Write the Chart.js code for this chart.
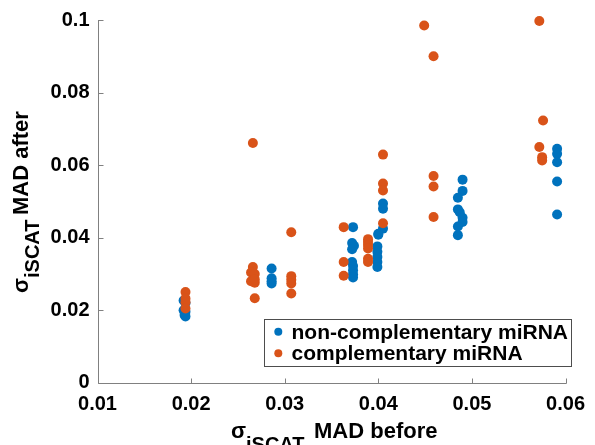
<!DOCTYPE html>
<html>
<head>
<meta charset="utf-8">
<script src="https://cdn.jsdelivr.net/npm/chart.js@4.4.1/dist/chart.umd.min.js"></script>
<style>
html,body{margin:0;padding:0;background:#fff;}
#wrap{width:595px;height:445px;}
</style>
</head>
<body>
<div id="wrap"><canvas id="c" width="595" height="445"></canvas></div>
<script>
// ---- data ----
const seriesNames = ['non-complementary miRNA', 'complementary miRNA'];
const seriesColors = ['#0072BD', '#D95319'];

const xBlue = [0.0192,0.0194,0.0192,0.0194,0.0193,0.0194,
  0.0286,0.0286,0.0286,0.0286,
  0.0373,0.0372,0.0374,0.0372,0.0372,0.0373,0.0373,0.0373,0.0373,
  0.0405,0.0405,0.0405,0.0400,0.0400,0.0399,0.0399,0.0399,0.0399,0.0399,
  0.0490,0.0490,0.0485,0.0485,0.0487,0.0490,0.0490,0.0485,0.0485,
  0.0591,0.0591,0.0591,0.0591,0.0591];
const yBlue = [0.0227,0.0220,0.0200,0.0196,0.0187,0.0183,
  0.0315,0.0288,0.0280,0.0274,
  0.0429,0.0385,0.0378,0.0368,0.0333,0.0322,0.0310,0.0299,0.0290,
  0.0494,0.0480,0.0425,0.0411,0.0408,0.0376,0.0361,0.0347,0.0333,0.0319,
  0.0560,0.0529,0.0510,0.0478,0.0470,0.0455,0.0443,0.0431,0.0407,
  0.0645,0.0631,0.0608,0.0555,0.0464];

const xOrange = [0.0194,0.0194,0.0194,0.0194,
  0.0266,0.0266,0.0264,0.0268,0.0264,0.0268,0.0268,0.0268,
  0.0307,0.0307,0.0307,0.0307,0.0307,
  0.0363,0.0363,0.0363,
  0.0389,0.0389,0.0389,0.0389,0.0389,0.0389,
  0.0405,0.0405,0.0405,0.0405,
  0.0449,0.0459,0.0459,0.0459,0.0459,
  0.0572,0.0576,0.0572,0.0575,0.0575];
const yOrange = [0.0250,0.0232,0.0222,0.0205,
  0.0661,0.0319,0.0304,0.0300,0.0280,0.0276,0.0285,0.0233,
  0.0415,0.0294,0.0284,0.0274,0.0246,
  0.0429,0.0333,0.0295,
  0.0396,0.0388,0.0380,0.0370,0.0342,0.0333,
  0.0629,0.0549,0.0530,0.0440,
  0.0985,0.0900,0.0570,0.0541,0.0457,
  0.0997,0.0723,0.0650,0.0622,0.0613];

const xTicks = [0.01,0.02,0.03,0.04,0.05,0.06];
const xTickLabels = ['0.01','0.02','0.03','0.04','0.05','0.06'];
const yTicks = [0,0.02,0.04,0.06,0.08,0.1];
const yTickLabels = ['0','0.02','0.04','0.06','0.08','0.1'];

const xTitle = {sym:'σ', sub:'iSCAT', rest:'MAD before'};
const yTitle = {sym:'σ', sub:'iSCAT', rest:'MAD after'};

// ---- chart ----
const FONT = '"Liberation Sans", Arial, sans-serif';
const AXIS_COLOR = '#808080';

const toPts = (xs, ys) => xs.map((x, i) => ({x: x, y: ys[i]}));

const decor = {
  id: 'decor',
  afterDraw(chart) {
    const ctx = chart.ctx;
    const xs = chart.scales.x, ys = chart.scales.y;
    const ca = chart.chartArea;
    const left = Math.round(ca.left) + 0.5, bottom = Math.round(ca.bottom) + 0.5;
    ctx.save();
    ctx.strokeStyle = AXIS_COLOR;
    ctx.lineWidth = 1;
    ctx.beginPath();
    ctx.moveTo(left, Math.round(ys.getPixelForValue(yTicks[yTicks.length-1])));
    ctx.lineTo(left, bottom);
    ctx.lineTo(Math.round(xs.getPixelForValue(xTicks[xTicks.length-1])) + 0.5, bottom);
    xTicks.forEach(v => {
      const p = Math.round(xs.getPixelForValue(v)) + 0.5;
      ctx.moveTo(p, bottom); ctx.lineTo(p, bottom - 5);
    });
    yTicks.forEach(v => {
      const p = Math.round(ys.getPixelForValue(v)) + 0.5;
      ctx.moveTo(left, p); ctx.lineTo(left + 5, p);
    });
    ctx.stroke();

    // legend
    const lx = 264.5, ly = 319.5, lw = 307, lh = 47;
    ctx.fillStyle = '#fff';
    ctx.fillRect(lx, ly, lw, lh);
    ctx.strokeStyle = '#4d4d4d';
    ctx.strokeRect(lx, ly, lw, lh);
    ctx.font = 'bold 21px ' + FONT;
    ctx.textBaseline = 'alphabetic';
    ctx.textAlign = 'left';
    const rows = [331.7, 353.3];
    chart.data.datasets.slice().sort((a,b)=>a.legendIndex-b.legendIndex).forEach((ds, i) => {
      ctx.fillStyle = ds.backgroundColor;
      ctx.beginPath();
      ctx.arc(278.3, rows[i], 4, 0, Math.PI*2);
      ctx.fill();
      ctx.fillStyle = '#000';
      ctx.fillText(ds.label, 291.5, rows[i] + 7);
    });

    // x title
    ctx.fillStyle = '#000';
    ctx.font = 'bold 22px ' + FONT;
    ctx.fillText(xTitle.sym, 231, 438);
    ctx.font = 'bold 20px ' + FONT;
    ctx.fillText(xTitle.sub, 246, 451);
    ctx.font = 'bold 22px ' + FONT;
    ctx.fillText(xTitle.rest, 314, 438);

    // y title
    ctx.translate(28, 293);
    ctx.rotate(-Math.PI/2);
    ctx.font = 'bold 22px ' + FONT;
    ctx.fillText(yTitle.sym, 0, 0);
    ctx.font = 'bold 20px ' + FONT;
    ctx.fillText(yTitle.sub, 15, 11);
    ctx.font = 'bold 22px ' + FONT;
    ctx.fillText(yTitle.rest, 78, 0);
    ctx.restore();
  }
};

new Chart(document.getElementById('c'), {
  type: 'scatter',
  data: {
    datasets: [
      {label: seriesNames[0], legendIndex: 0, data: toPts(xBlue, yBlue), backgroundColor: seriesColors[0],
       borderWidth: 0, pointRadius: 5, order: 1, clip: false},
      {label: seriesNames[1], legendIndex: 1, data: toPts(xOrange, yOrange), backgroundColor: seriesColors[1],
       borderWidth: 0, pointRadius: 5, order: 0, clip: false}
    ]
  },
  options: {
    responsive: false,
    devicePixelRatio: 1,
    animation: false,
    events: [],
    layout: {padding: {left: 0, right: 23, top: 19, bottom: 0}},
    plugins: {legend: {display: false}, tooltip: {enabled: false}},
    scales: {
      x: {
        type: 'linear', min: 0.01, max: 0.06,
        grid: {display: false, drawTicks: false},
        border: {display: false},
        afterBuildTicks: s => { s.ticks = xTicks.map(v => ({value: v})); },
        afterFit: s => { s.height = 445 - 382.8; },
        ticks: {
          autoSkip: false, maxRotation: 0, padding: 10, color: '#000',
          font: {family: FONT, size: 20, weight: 'bold'},
          callback: (v, i) => xTickLabels[i]
        }
      },
      y: {
        type: 'linear', min: 0, max: 0.1,
        grid: {display: false, drawTicks: false},
        border: {display: false},
        afterBuildTicks: s => { s.ticks = yTicks.map(v => ({value: v})); },
        afterFit: s => { s.width = 97.5; },
        ticks: {
          autoSkip: false, padding: 8, color: '#000',
          font: {family: FONT, size: 20, weight: 'bold'},
          callback: (v, i) => yTickLabels[i]
        }
      }
    }
  },
  plugins: [decor]
});
</script>
</body>
</html>
